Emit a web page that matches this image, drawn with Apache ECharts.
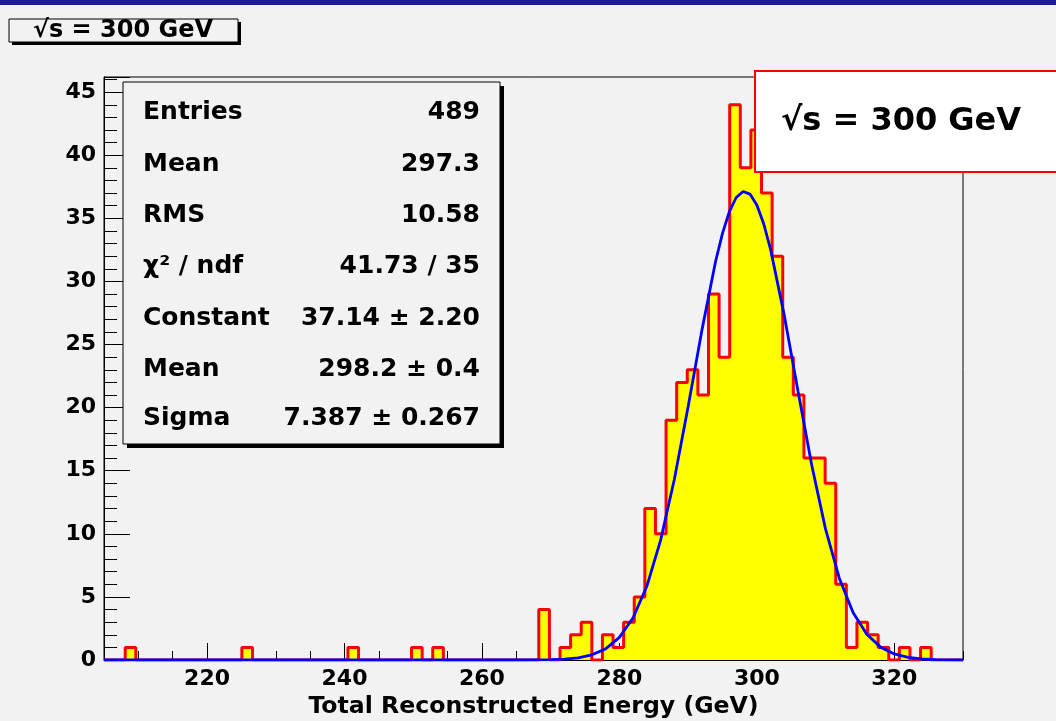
<!DOCTYPE html>
<html>
<head>
<meta charset="utf-8">
<script src="https://cdn.jsdelivr.net/npm/echarts@6/dist/echarts.min.js"></script>
<style>
html,body{margin:0;padding:0;background:#f2f2f2;}
#chart{width:1056px;height:721px;}
</style>
</head>
<body>
<div id="chart"></div>
<script>
// ---- data ----
const binStart = 205;
const binEnd = 330;
const counts = [
  0,0,1,0,0,0,0,0,0,0,
  0,0,0,1,0,0,0,0,0,0,
  0,0,0,1,0,0,0,0,0,1,
  0,1,0,0,0,0,0,0,0,0,
  0,4,0,1,2,3,0,2,1,3,
  5,12,10,19,22,23,21,29,24,44,
  39,42,37,32,24,21,16,16,14,6,
  1,3,2,1,0,1,0,1,0,0,
  0
];
const fitX = [205,264,268,270,272,274,276,278,280,282,284,286,288,290,292,294,295,296,297,298,299,300,301,302,304,306,308,310,312,314,316,318,320,322,324,326,330];
const fitY = [0,0,0.01,0.03,0.07,0.17,0.41,0.88,1.79,3.35,5.86,9.50,14.32,20.06,26.12,31.60,33.81,35.53,36.65,37.13,36.92,36.05,34.57,32.54,27.29,21.27,15.41,10.37,6.48,3.77,2.04,1.02,0.48,0.21,0.08,0.03,0];
const xMajorTicks = [220,240,260,280,300,320];
const xMinorTicks = [210,215,225,230,235,245,250,255,265,270,275,285,290,295,305,310,315,325,330];
const yMax = 46.2;
const statNames = ['Entries','Mean','RMS','\u03C7\u00B2 / ndf','Constant','Mean','Sigma'];
const statValues = ['489','297.3','10.58','41.73 / 35','37.14 \u00B1 2.20','298.2 \u00B1 0.4','7.387 \u00B1 0.267'];
const titleText = '\u221As = 300 GeV';
const xTitle = 'Total Reconstructed Energy (GeV)';

// ---- build ----
const FF = '"DejaVu Sans", "Liberation Sans", sans-serif';
const binWidth = (binEnd - binStart) / counts.length;
const histData = counts.map((c, i) => [binStart + i * binWidth, c]);
histData.push([binEnd, 0]);
const fitData = fitX.map((x, i) => [x, fitY[i]]);

const chart = echarts.init(document.getElementById('chart'), null, {renderer: 'canvas'});

const graphics = [
  {type: 'rect', z: 100, shape: {x: 0, y: 0, width: 1056, height: 5}, style: {fill: '#1f1f8a'}},
  // top-left title pave with shadow
  {type: 'rect', z: 100, shape: {x: 12, y: 22, width: 229, height: 23}, style: {fill: '#000'}},
  {type: 'rect', z: 101, shape: {x: 9, y: 19, width: 229, height: 23}, style: {fill: '#f2f2f2', stroke: '#000', lineWidth: 1}},
  {type: 'text', z: 102, style: {text: titleText, x: 123, y: 31, fill: '#000', fontSize: 24, fontWeight: 'bold', fontFamily: FF, align: 'center', verticalAlign: 'middle'}},
  // stats box with shadow
  {type: 'rect', z: 100, shape: {x: 127, y: 86, width: 377, height: 362}, style: {fill: '#000'}},
  {type: 'rect', z: 101, shape: {x: 123, y: 82, width: 377, height: 362}, style: {fill: '#f2f2f2', stroke: '#000', lineWidth: 1}},
  // red label box
  {type: 'rect', z: 100, shape: {x: 755, y: 71, width: 320, height: 101}, style: {fill: '#ffffff', stroke: '#ff0000', lineWidth: 2}},
  {type: 'text', z: 102, style: {text: titleText, x: 901, y: 122, fill: '#000', fontSize: 32, fontWeight: 'bold', fontFamily: FF, align: 'center', verticalAlign: 'middle'}}
];
const rowY = [112, 164, 215, 266, 318, 369, 418];
statNames.forEach((n, i) => {
  graphics.push({type: 'text', z: 102, style: {text: n, x: 143, y: rowY[i], fill: '#000', fontSize: 25, fontWeight: 'bold', fontFamily: FF, align: 'left', verticalAlign: 'middle'}});
  graphics.push({type: 'text', z: 102, style: {text: statValues[i], x: 480, y: rowY[i], fill: '#000', fontSize: 25, fontWeight: 'bold', fontFamily: FF, align: 'right', verticalAlign: 'middle'}});
});

const labelStyle = {color: '#000', fontSize: 22, fontWeight: 'bold', fontFamily: FF};

chart.setOption({
  animation: false,
  backgroundColor: '#f2f2f2',
  grid: {left: 104, right: 93, top: 77, bottom: 61, show: true, borderColor: '#000', borderWidth: 1, backgroundColor: 'transparent', containLabel: false, outerBoundsMode: 'none'},
  xAxis: [
    {
      type: 'value', min: binStart, max: binEnd, position: 'bottom', offset: 0,
      axisLine: {show: true, lineStyle: {color: '#000', width: 1}},
      axisTick: {show: true, inside: true, length: 17, customValues: xMajorTicks, lineStyle: {color: '#000', width: 1}},
      axisLabel: Object.assign({margin: 8, customValues: xMajorTicks}, labelStyle),
      splitLine: {show: false},
      name: xTitle, nameLocation: 'middle', nameGap: 33,
      nameTextStyle: {color: '#000', fontSize: 23.6, fontWeight: 'bold', fontFamily: FF}
    },
    {
      type: 'value', min: binStart, max: binEnd, position: 'bottom', offset: 0,
      axisLine: {show: false},
      axisTick: {show: true, inside: true, length: 9, customValues: xMinorTicks, lineStyle: {color: '#000', width: 1}},
      axisLabel: {show: false},
      splitLine: {show: false}
    }
  ],
  yAxis: {
    type: 'value', min: 0, max: yMax, interval: 5,
    axisLine: {show: true, lineStyle: {color: '#000', width: 1}},
    axisTick: {show: true, inside: true, length: 26, lineStyle: {color: '#000', width: 1}},
    minorTick: {show: true, splitNumber: 5, length: 13, lineStyle: {color: '#000', width: 1}},
    axisLabel: Object.assign({margin: 8}, labelStyle),
    splitLine: {show: false}
  },
  series: [
    {
      type: 'line', data: histData, step: 'end', symbol: 'none', z: 2,
      lineStyle: {color: '#ff0000', width: 3},
      areaStyle: {color: '#ffff00', opacity: 1}
    },
    {
      type: 'line', data: fitData, symbol: 'none', z: 3, smooth: false,
      lineStyle: {color: '#0000ff', width: 2.8}
    }
  ],
  graphic: graphics
});
</script>
</body>
</html>
